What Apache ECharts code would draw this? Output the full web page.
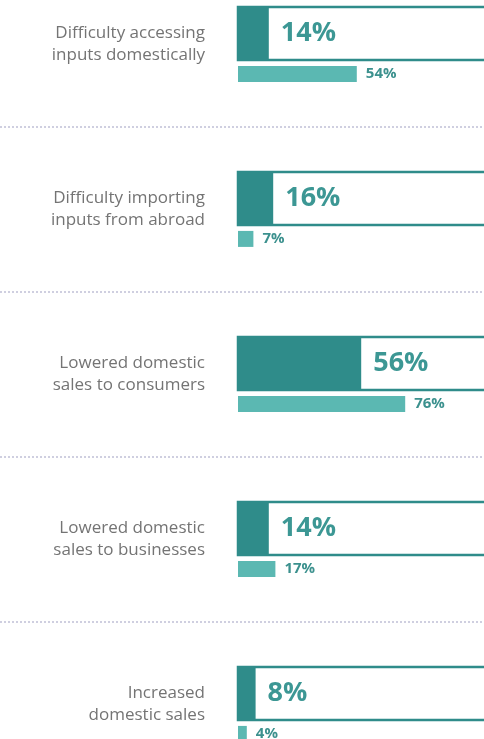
<!DOCTYPE html>
<html>
<head>
<meta charset="utf-8">
<style>
  html, body { margin: 0; padding: 0; background: #fff; }
  #chart { width: 484px; height: 739px; }
</style>
<script src="https://cdn.jsdelivr.net/npm/echarts@6/dist/echarts.min.js"></script>
</head>
<body>
<div id="chart"></div>
<script>
const categories = [
  'Difficulty accessing\ninputs domestically',
  'Difficulty importing\ninputs from abroad',
  'Lowered domestic\nsales to consumers',
  'Lowered domestic\nsales to businesses',
  'Increased\ndomestic sales'
]
// big bars (dark) and small bars (light)
const mainValues = [14, 16, 56, 14, 8]
const subValues = [54, 7, 76, 17, 4]

const chart = echarts.init(document.getElementById('chart'))
const dark = '#2F8C8A'
const light = '#5BB8B2'

const option = {
  animation: false,
  grid: [
    // full-width grid, only for the dotted separators
    { left: 0, top: -38, width: 484, height: 825, outerBoundsMode: 'none', containLabel: false },
    { left: 238, top: -38, width: 264, height: 825, outerBoundsMode: 'none', containLabel: false }
  ],
  xAxis: [
    { gridIndex: 0, type: 'value', show: false, min: 0, max: 100 },
    { gridIndex: 1, type: 'value', show: false, min: 0, max: 120 }
  ],
  yAxis: [
    {
      gridIndex: 0,
      type: 'category',
      inverse: true,
      data: categories,
      axisLine: { show: false },
      axisTick: { show: false },
      axisLabel: { show: false },
      splitLine: {
        show: true,
        lineStyle: { color: '#cfcfe0', width: 2, type: [2, 2] }
      }
    },
    {
      gridIndex: 1,
      type: 'category',
      inverse: true,
      data: categories,
      axisLine: { show: false },
      axisTick: { show: false },
      splitLine: { show: false },
      axisLabel: {
        margin: 33,
        color: '#747474',
        fontFamily: 'Open Sans',
        fontSize: 17,
        lineHeight: 22,
        align: 'right'
      }
    }
  ],
  series: [
    {
      name: 'main',
      type: 'bar',
      xAxisIndex: 1,
      yAxisIndex: 1,
      barWidth: 53,
      barGap: '11%',
      data: mainValues,
      itemStyle: { color: dark },
      showBackground: true,
      backgroundStyle: {
        color: '#fff',
        borderColor: dark,
        borderWidth: 2.5
      },
      label: {
        show: true,
        position: 'right',
        distance: 12,
        formatter: '{c}%',
        color: '#3C9794',
        fontFamily: 'Open Sans',
        fontWeight: 'bold',
        fontSize: 27
      }
    },
    {
      name: 'sub',
      type: 'bar',
      xAxisIndex: 1,
      yAxisIndex: 1,
      barWidth: 16,
      data: subValues,
      itemStyle: { color: light },
      label: {
        show: true,
        position: 'right',
        distance: 9,
        formatter: '{c}%',
        color: '#3C918E',
        fontFamily: 'Open Sans',
        fontWeight: 'bold',
        fontSize: 15
      }
    }
  ]
}
chart.setOption(option)
</script>
</body>
</html>
